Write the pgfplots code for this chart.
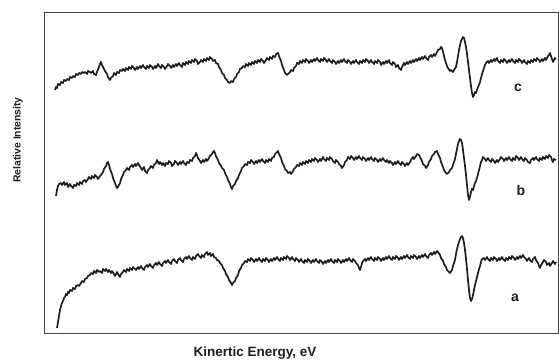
\documentclass[border=0pt]{standalone}
\usepackage{pgfplots}
\pgfplotsset{compat=1.18}
\usepackage{fontspec}
\setmainfont{Liberation Sans}
\definecolor{ink}{HTML}{1E1E1E}
\definecolor{frame}{HTML}{444444}
\begin{document}
\begin{tikzpicture}[x=1pt,y=1pt]
\path[use as bounding box] (-44,-30) rectangle (515,333);
\begin{axis}[at={(0,0)}, anchor=south west, scale only axis,
  width=514pt, height=321pt, xmin=44, xmax=558, ymin=12, ymax=333,
  y dir=reverse, ticks=none,
  axis line style={draw=frame, line width=0.9pt},
  curve/.style={draw=ink, line width=1.7pt, line join=round, mark=none}]
% curve c
\addplot[curve] table {
55 90
56 87
57 88
58 84
60 85
61 82
63 83
64 80
66 81
67 79
69 80
70 77
72 78
73 76
75 77
76 74
78 75
79 73
81 74
82 72
84 73
85 72
87 74
88 71
90 72
91 73
93 71
94 74
96 75
97 72
99 67
100 64
101 62
102 65
104 69
105 71
107 74
108 77
110 80
111 78
113 76
114 73
116 75
117 72
119 73
120 70
122 71
123 69
125 71
126 68
128 70
129 67
131 69
132 66
134 68
135 70
137 67
138 69
140 66
141 68
143 65
144 67
146 69
147 66
149 68
150 65
152 67
153 69
155 66
156 68
158 64
159 66
161 68
162 65
164 67
165 69
167 66
168 64
170 66
171 68
173 65
174 67
176 64
177 66
179 63
180 65
182 67
183 63
185 65
186 62
188 64
189 61
191 63
192 60
194 62
195 59
197 61
198 64
200 62
201 60
203 62
204 59
206 61
207 58
209 60
210 57
212 59
213 61
215 60
216 63
218 64
219 67
221 70
222 73
224 75
225 78
227 80
228 82
230 83
231 81
233 82
234 79
236 77
237 74
239 72
240 69
242 68
243 66
245 67
246 64
248 66
249 63
251 65
252 62
254 64
255 61
257 63
258 60
260 62
261 59
263 61
264 63
266 60
267 58
269 60
270 57
272 59
273 56
275 57
276 54
278 53
279 56
281 61
282 65
284 70
285 73
287 75
288 74
290 72
291 70
293 71
294 68
296 66
297 63
299 64
300 61
302 63
303 60
305 62
306 59
308 61
309 63
311 60
312 62
314 59
315 61
317 58
318 60
320 62
321 59
323 61
324 58
326 60
327 62
329 59
330 61
332 63
333 60
335 62
336 64
338 61
339 63
341 60
342 62
344 59
345 61
347 63
348 60
350 62
351 64
353 61
354 63
356 60
357 62
359 64
360 61
362 63
363 60
365 62
366 59
368 61
369 63
371 60
372 62
374 64
375 61
377 63
378 60
380 62
381 65
383 62
384 64
386 61
387 63
389 60
390 63
392 65
393 62
395 64
396 67
398 65
399 68
401 70
402 67
404 63
405 65
407 62
408 64
410 61
411 63
413 60
414 62
416 59
417 61
419 58
420 60
422 57
423 59
425 56
426 58
428 60
429 57
431 55
432 57
434 54
435 56
437 52
438 50
440 49
441 47
442 48
443 52
444 56
445 60
447 66
448 68
450 71
451 70
453 72
454 70
456 67
457 62
458 56
459 50
460 45
461 41
462 39
463 37
464 38
465 42
466 47
467 54
468 62
469 70
470 78
471 86
472 93
473 97
474 95
475 92
476 93
477 90
478 87
479 85
480 82
481 78
482 74
483 71
484 68
485 65
486 63
488 61
489 63
491 60
492 62
494 59
495 61
497 58
498 61
500 63
501 60
503 62
504 59
506 61
507 63
509 60
510 62
512 59
513 61
515 63
516 60
518 62
519 59
521 61
522 63
524 60
525 62
527 64
528 61
530 63
531 60
533 62
534 59
536 61
537 58
539 60
540 62
542 59
543 61
545 58
546 60
548 56
549 55
550 53
551 56
552 59
553 62
554 60
555 58
556 59
};
% curve b
\addplot[curve] table {
56 196
57 190
58 186
59 184
61 183
62 185
64 182
65 185
67 183
68 187
70 184
71 186
73 188
74 185
76 186
77 183
79 185
80 182
82 184
83 181
85 180
86 182
88 179
89 177
91 179
92 176
94 178
95 175
97 177
98 179
100 176
101 175
103 172
104 169
106 166
107 163
108 162
109 165
110 169
112 174
113 178
115 183
116 186
117 188
118 187
120 183
121 179
123 175
124 172
126 170
127 168
129 170
130 167
132 165
133 167
135 164
136 166
138 163
139 165
141 168
142 170
144 167
145 171
147 173
148 170
150 168
151 166
153 168
154 165
156 163
157 160
159 164
160 162
162 165
163 163
165 166
166 163
168 164
169 161
171 163
172 166
174 164
175 161
177 163
178 165
180 162
181 164
183 161
184 163
186 165
187 162
189 163
190 160
192 161
193 158
195 156
196 153
197 155
198 158
200 161
201 163
203 160
204 162
206 159
207 161
209 158
210 156
212 154
213 152
214 151
215 153
216 156
218 160
219 163
221 166
222 168
224 170
225 173
227 177
228 180
230 184
231 187
232 189
233 186
235 184
236 181
238 178
239 175
241 171
242 168
244 166
245 164
247 165
248 162
250 163
251 160
253 162
254 164
256 161
257 163
259 160
260 162
262 159
263 161
265 163
266 160
268 162
269 159
271 161
272 158
274 157
275 154
277 152
278 151
279 154
281 158
282 162
284 166
285 169
287 171
288 173
290 172
291 174
293 171
294 169
296 167
297 165
299 166
300 163
302 165
303 162
305 164
306 161
308 163
309 160
311 162
312 159
314 161
315 158
317 160
318 162
320 159
321 161
323 157
324 159
326 161
327 158
329 160
330 157
332 159
333 161
335 163
336 160
338 162
339 164
341 166
342 168
344 165
345 162
347 160
348 157
350 159
351 156
353 158
354 160
356 157
357 159
359 156
360 158
362 160
363 157
365 159
366 161
368 158
369 160
371 157
372 159
374 161
375 158
377 160
378 162
380 159
381 161
383 158
384 160
386 162
387 160
389 163
390 161
392 163
393 165
395 162
396 164
398 161
399 163
401 165
402 162
404 164
405 166
407 163
408 165
410 162
411 160
413 157
414 159
416 156
417 154
419 155
420 157
422 161
423 164
425 166
426 168
428 165
429 162
431 159
432 156
434 154
435 152
437 151
438 154
440 158
441 162
443 167
444 170
446 173
447 174
449 172
450 170
452 168
453 165
455 159
456 154
457 149
458 144
459 141
460 139
461 140
462 143
463 150
464 158
465 166
466 175
467 185
468 195
469 200
470 197
471 192
472 189
473 190
474 186
475 183
476 181
477 178
478 174
479 170
480 166
481 162
482 160
483 157
485 159
486 161
488 158
489 160
491 162
492 159
494 161
495 163
497 160
498 162
500 159
501 157
503 159
504 161
506 158
507 160
509 157
510 159
512 161
513 158
515 160
516 156
518 158
519 160
521 157
522 159
524 161
525 158
527 160
528 162
530 163
531 160
533 158
534 160
536 157
537 159
539 161
540 158
542 160
543 157
545 159
546 156
548 158
549 155
551 157
552 160
553 162
554 159
556 160
};
% curve a
\addplot[curve] table {
57 328
58 322
59 316
60 310
61 306
62 303
63 301
64 298
65 297
66 294
67 295
68 292
69 293
70 290
72 291
73 288
75 289
76 286
78 285
79 286
81 283
82 281
84 282
85 279
87 278
88 276
90 275
91 273
93 274
94 271
96 273
97 270
99 272
100 271
102 273
103 269
105 271
106 269
108 272
109 270
111 273
112 271
114 274
115 276
117 272
118 274
120 277
121 274
123 272
124 270
126 272
127 269
129 271
130 268
132 270
133 267
135 269
136 270
138 267
139 269
141 266
142 268
144 270
145 267
147 265
148 267
150 264
151 266
153 268
154 265
156 263
157 265
159 262
160 264
162 266
163 263
165 261
166 263
168 260
169 262
171 264
172 261
174 259
175 261
177 263
178 260
180 258
181 260
183 262
184 259
186 257
187 259
189 256
190 258
192 260
193 257
195 259
196 256
198 254
199 256
201 258
202 255
204 257
205 254
207 252
208 255
210 253
211 256
213 254
214 257
216 258
217 260
219 261
220 263
222 265
223 268
225 271
226 274
228 277
229 280
231 283
232 285
233 283
235 281
236 278
238 275
239 271
241 268
242 265
244 263
245 261
247 262
248 259
250 261
251 258
253 260
254 262
256 259
257 261
259 258
260 260
262 262
263 259
265 261
266 258
268 260
269 262
271 259
272 261
274 258
275 260
277 257
278 259
280 261
281 258
283 260
284 257
286 259
287 256
289 258
290 260
292 257
293 259
295 261
296 258
298 260
299 262
301 259
302 261
304 263
305 260
307 262
308 259
310 261
311 263
313 260
314 262
316 259
317 261
319 263
320 260
322 262
323 264
325 261
326 263
328 260
329 262
331 259
332 261
334 263
335 260
337 262
338 259
340 261
341 263
343 260
344 262
346 259
347 261
349 258
350 260
352 262
353 259
355 261
356 263
358 265
359 268
360 270
361 267
362 263
363 261
365 259
366 261
368 258
369 260
371 257
372 259
374 261
375 258
377 260
378 257
380 259
381 261
383 258
384 260
386 257
387 259
389 256
390 258
392 260
393 257
395 259
396 256
398 258
399 260
401 257
402 259
404 256
405 258
407 255
408 257
410 259
411 256
413 258
414 255
416 257
417 259
419 256
420 258
422 255
423 257
425 254
426 256
428 258
429 255
431 253
432 255
434 252
435 254
437 251
438 252
440 255
441 258
443 261
444 264
446 267
447 270
449 272
450 273
452 270
453 266
455 260
456 254
457 249
458 245
459 242
460 239
461 237
462 236
463 238
464 243
465 250
466 259
467 269
468 280
469 290
470 298
471 301
472 299
473 295
474 290
475 285
476 281
477 277
478 273
479 269
480 266
481 262
482 259
484 258
485 260
487 257
488 259
490 261
491 258
493 260
494 257
496 259
497 261
499 258
500 260
502 257
503 259
505 261
506 258
508 260
509 257
511 259
512 256
514 258
515 260
517 257
518 259
520 256
521 258
523 255
524 257
526 259
527 261
529 258
530 260
532 262
533 259
535 257
536 260
538 263
539 266
540 268
541 265
543 262
544 260
546 262
547 265
549 263
550 266
552 263
553 261
555 264
556 262
};
\node[font=\fontsize{14}{16}\selectfont\bfseries, text=ink] at (axis cs:518,88) {c};
\node[font=\fontsize{14}{16}\selectfont\bfseries, text=ink] at (axis cs:521,190) {b};
\node[font=\fontsize{14}{16}\selectfont\bfseries, text=ink] at (axis cs:515,298) {a};
\end{axis}
\node[rotate=90, font=\fontsize{10.4}{12}\selectfont\bfseries, text=ink] at (-26,193) {Relative Intensity};
\node[font=\fontsize{13.5}{16}\selectfont\bfseries, text=ink] at (211,-20) {Kinertic Energy, eV};
\end{tikzpicture}
\end{document}
